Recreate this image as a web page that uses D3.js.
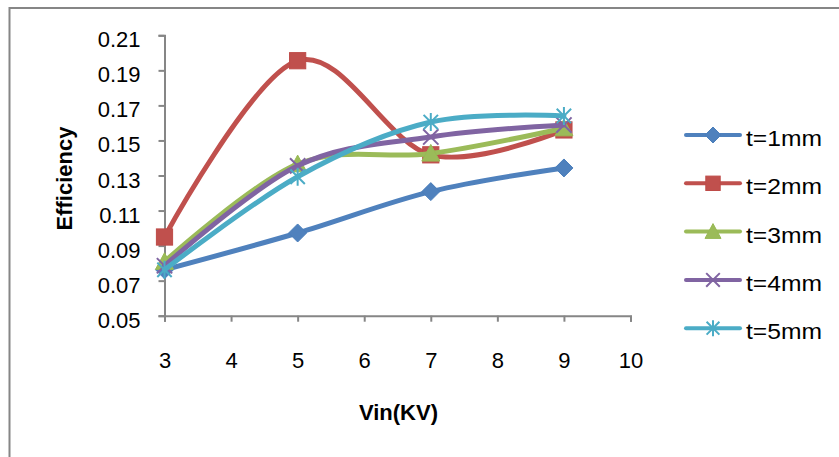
<!DOCTYPE html>
<html>
<head>
<meta charset="utf-8">
<script src="https://cdn.jsdelivr.net/npm/d3@7"></script>
<style>
  html, body { margin: 0; padding: 0; background: #fff; }
  svg { display: block; }
  text { font-family: "Liberation Sans", Arial, sans-serif; fill: #000; }
</style>
</head>
<body>
<svg id="chart" width="839" height="457"></svg>
<script>
// ---- Data ----
const vin = [3, 5, 7, 9];
const seriesNames = ["t=1mm", "t=2mm", "t=3mm", "t=4mm", "t=5mm"];
const t1 = [0.0762, 0.0972, 0.1208, 0.1343];
const t2 = [0.0949, 0.1955, 0.1418, 0.1560];
const t3 = [0.0808, 0.1365, 0.1426, 0.1570];
const t4 = [0.0785, 0.1355, 0.1520, 0.1588];
const t5 = [0.0762, 0.1293, 0.1605, 0.1640];
const xTicks = [3, 4, 5, 6, 7, 8, 9, 10];
const yTicks = [0.05, 0.07, 0.09, 0.11, 0.13, 0.15, 0.17, 0.19, 0.21];
const yTickLabels = ["0.05", "0.07", "0.09", "0.11", "0.13", "0.15", "0.17", "0.19", "0.21"];
const xTitle = "Vin(KV)";
const yTitle = "Efficiency";

const seriesValues = [t1, t2, t3, t4, t5];
const colors = ["#4F81BD", "#C0504D", "#9BBB59", "#8064A2", "#4BACC6"];
const strokes = ["#4A7EBB", "#BE4B48", "#98B954", "#7D60A0", "#46AAC5"];
const markers = ["diamond", "square", "triangle", "x", "asterisk"];

const svg = d3.select("#chart");
const axisColor = "#868686";

// outer frame
svg.append("rect")
  .attr("x", 9.5).attr("y", 8).attr("width", 850).attr("height", 470)
  .attr("fill", "none").attr("stroke", axisColor).attr("stroke-width", 2);

const x = d3.scaleLinear().domain([3, 10]).range([164.5, 630.5]);
const y = d3.scaleLinear().domain([0.05, 0.21]).range([315.7, 35.3]);

// Y axis
const yAxis = d3.axisLeft(y).tickValues(yTicks).tickSize(6).tickFormat((d, i) => yTickLabels[i]);
const gy = svg.append("g").attr("transform", `translate(${x(3)},0)`).call(yAxis);
gy.select(".domain").attr("stroke", axisColor).attr("stroke-width", 2);
gy.selectAll(".tick line").attr("stroke", axisColor).attr("stroke-width", 2);
gy.selectAll(".tick text")
  .attr("x", -24).attr("dy", null).attr("y", 11.5)
  .style("font-family", "'Liberation Sans', Arial, sans-serif")
  .style("font-size", "22px").attr("fill", "#000");

// X axis
const xAxis = d3.axisBottom(x).tickValues(xTicks).tickSize(6).tickFormat(d3.format("d"));
const gx = svg.append("g").attr("transform", `translate(0,${y(0.05)})`).call(xAxis);
gx.select(".domain").attr("stroke", axisColor).attr("stroke-width", 2);
gx.selectAll(".tick line").attr("stroke", axisColor).attr("stroke-width", 2);
gx.selectAll(".tick text")
  .attr("y", 52).attr("dy", null)
  .style("font-family", "'Liberation Sans', Arial, sans-serif")
  .style("font-size", "22px").attr("fill", "#000");

// Axis titles
svg.append("text").attr("x", 398.5).attr("y", 420)
  .attr("text-anchor", "middle").style("font-weight", "bold").style("font-size", "22px")
  .text(xTitle);
svg.append("text")
  .attr("transform", "translate(72,178.5) rotate(-90)")
  .attr("text-anchor", "middle").style("font-weight", "bold").style("font-size", "22px")
  .text(yTitle);

// Marker drawing
function drawMarker(g, type, cx, cy, size, i) {
  const h = size / 2;
  if (type === "diamond") {
    g.append("path").attr("d", `M${cx},${cy - h}L${cx + h},${cy}L${cx},${cy + h}L${cx - h},${cy}Z`)
      .attr("fill", colors[i]).attr("stroke", strokes[i]).attr("stroke-width", 1);
  } else if (type === "square") {
    const s = size * 0.9;
    g.append("rect").attr("x", cx - s / 2).attr("y", cy - s / 2).attr("width", s).attr("height", s)
      .attr("fill", colors[i]).attr("stroke", strokes[i]).attr("stroke-width", 1);
  } else if (type === "triangle") {
    g.append("path").attr("d", `M${cx},${cy - h}L${cx + h},${cy + h * 0.85}L${cx - h},${cy + h * 0.85}Z`)
      .attr("fill", colors[i]).attr("stroke", strokes[i]).attr("stroke-width", 1);
  } else if (type === "x") {
    const k = h * 0.85;
    g.append("path").attr("d", `M${cx - k},${cy - k}L${cx + k},${cy + k}M${cx - k},${cy + k}L${cx + k},${cy - k}`)
      .attr("fill", "none").attr("stroke", colors[i]).attr("stroke-width", 2);
  } else if (type === "asterisk") {
    const k = h * 0.8;
    g.append("path").attr("d", `M${cx - k},${cy - k}L${cx + k},${cy + k}M${cx - k},${cy + k}L${cx + k},${cy - k}M${cx},${cy - h}L${cx},${cy + h}`)
      .attr("fill", "none").attr("stroke", colors[i]).attr("stroke-width", 2);
  }
}

// Lines
const line = d3.line()
  .x((d, j) => x(vin[j]))
  .y(d => y(d))
  .curve(d3.curveCatmullRom.alpha(0));

seriesValues.forEach((vals, i) => {
  const g = svg.append("g");
  g.append("path").datum(vals).attr("d", line)
    .attr("fill", "none").attr("stroke", colors[i]).attr("stroke-width", 5)
    .attr("stroke-linejoin", "round").attr("stroke-linecap", "round");
  vals.forEach((v, j) => drawMarker(g, markers[i], x(vin[j]), y(v), 18, i));
});

// Legend
const legY0 = 135, legStep = 48.3;
seriesNames.forEach((name, i) => {
  const g = svg.append("g");
  const cy = legY0 + i * legStep;
  g.append("line").attr("x1", 686).attr("x2", 740).attr("y1", cy).attr("y2", cy)
    .attr("stroke", colors[i]).attr("stroke-width", 4).attr("stroke-linecap", "round");
  drawMarker(g, markers[i], 713, cy, 16, i);
  g.append("text").attr("x", 746).attr("y", cy + 11)
    .style("font-size", "22px")
    .attr("textLength", 76).attr("lengthAdjust", "spacingAndGlyphs")
    .text(name);
});
</script>
</body>
</html>
